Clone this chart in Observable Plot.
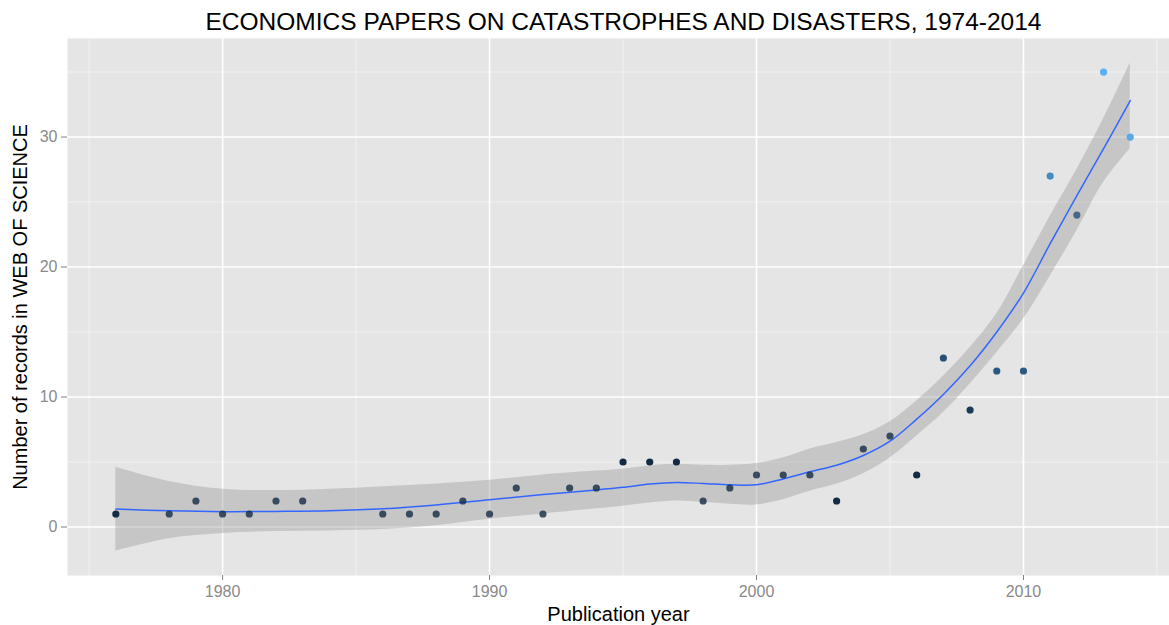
<!DOCTYPE html>
<html>
<head>
<meta charset="utf-8">
<script src="https://cdn.jsdelivr.net/npm/d3@7"></script>
<script src="https://cdn.jsdelivr.net/npm/@observablehq/plot@0.6"></script>
<style>
  html, body { margin: 0; padding: 0; background: #ffffff; }
  body { width: 1169px; height: 625px; overflow: hidden; font-family: "Liberation Sans", Arial, sans-serif; }
  #title { height: 38px; line-height: 44px; font-size: 24.5px; color: #000; text-align: center; width: 1169px; padding-left: 78px; box-sizing: border-box; white-space: nowrap; }
  #chart svg { display: block; }
</style>
</head>
<body>
<div id="title">ECONOMICS PAPERS ON CATASTROPHES AND DISASTERS, 1974-2014</div>
<div id="chart"></div>
<script>
// Observed yearly counts
const years   = [1976,1978,1979,1980,1981,1982,1983,1986,1987,1988,1989,1990,1991,1992,1993,1994,1995,1996,1997,1998,1999,2000,2001,2002,2003,2004,2005,2006,2007,2008,2009,2010,2011,2012,2013,2014];
const records = [1,1,2,1,1,2,2,1,1,1,2,1,3,1,3,3,5,5,5,2,3,4,4,4,2,6,7,4,13,9,12,12,27,24,35,30];
// point colour variable (continuous) and point alpha variable
const shade   = [0,0,0,0,0,0,0,0,0,0,0,0,0,0,0,0,0,0,0,0,0,0,0,0,0,0,0,0,0.28,0.11,0.35,0.35,0.72,0.3,1.0,0.91];
const alphaV  = [1,0.8,0.8,0.8,0.8,0.8,0.8,0.8,0.8,0.8,0.8,0.8,0.8,0.8,0.8,0.8,1,1,1,0.8,0.8,0.8,0.8,0.8,1,0.8,0.8,1,1,1,1,1,1,0.8,1,0.95];

// Smoother (loess) fit and confidence band
const smoothYears = [1976,1978,1980,1982,1984,1986,1988,1990,1992,1994,1995,1996,1997,1998,1999,2000,2001,2002,2003,2004,2005,2006,2007,2008,2009,2010,2011,2012,2013,2014];
const smoothFit   = [1.38,1.25,1.18,1.2,1.25,1.4,1.7,2.1,2.5,2.85,3.05,3.3,3.42,3.35,3.25,3.25,3.7,4.25,4.75,5.5,6.6,8.3,10.2,12.4,15.0,18.0,21.8,25.5,29.1,32.8];
const smoothLow   = [-1.85,-0.9,-0.5,-0.35,-0.3,-0.2,0.1,0.6,1.0,1.4,1.6,1.85,2.0,1.9,1.75,1.7,2.1,2.75,3.3,4.1,5.3,7.0,8.8,11.0,13.4,16.0,19.3,22.8,26.5,29.1];
const smoothHigh  = [4.6,3.5,2.9,2.8,2.9,3.1,3.3,3.6,4.0,4.3,4.45,4.7,4.83,4.75,4.75,4.88,5.3,6.0,6.5,7.1,8.1,9.7,11.6,13.8,16.4,20.1,23.9,27.5,31.4,35.7];

// Axis ticks
const xMajor = [1980,1990,2000,2010];
const xMinor = [1975,1985,1995,2005,2015];
const yMajor = [0,10,20,30];
const yMinor = [5,15,25,35];

const points = years.map((y,i) => ({year: y, n: records[i], shade: shade[i], alpha: alphaV[i]}));
const smooth = smoothYears.map((y,i) => ({year: y, fit: smoothFit[i], lo: smoothLow[i], hi: smoothHigh[i]}));

const chart = Plot.plot({
  width: 1169,
  height: 587,
  marginTop: 0,
  marginBottom: 50,
  marginLeft: 67,
  marginRight: 0,
  style: {fontFamily: "'Liberation Sans', Arial, sans-serif", background: "transparent"},
  x: {domain: [1974.19, 2015.47], label: null},
  y: {domain: [-3.73, 37.58], label: null},
  color: {type: "linear", domain: [0,1], range: ["#132B43", "#56B1F7"]},
  marks: [
    Plot.frame({fill: "#E5E5E5", stroke: null}),
    Plot.ruleX(xMinor, {stroke: "#F2F2F2", strokeWidth: 1}),
    Plot.ruleY(yMinor, {stroke: "#F2F2F2", strokeWidth: 1}),
    Plot.ruleX(xMajor, {stroke: "#FFFFFF", strokeWidth: 1.6}),
    Plot.ruleY(yMajor, {stroke: "#FFFFFF", strokeWidth: 1.6}),
    Plot.areaY(smooth, {x: "year", y1: "lo", y2: "hi", fill: "#999999", fillOpacity: 0.4, curve: "catmull-rom"}),
    Plot.line(smooth, {x: "year", y: "fit", stroke: "#3366FF", strokeWidth: 1.5, curve: "catmull-rom"}),
    Plot.dot(points, {x: "year", y: "n", r: 3.6, fill: "shade", fillOpacity: "alpha", stroke: null}),
    Plot.axisX(xMajor, {tickSize: 5, tickPadding: 5, stroke: "#7F7F7F", fill: "#8A8A8A", fontSize: 16, tickFormat: d => String(d), label: null}),
    Plot.axisY(yMajor, {tickSize: 6, tickPadding: 4, stroke: "#7F7F7F", fill: "#8A8A8A", fontSize: 16, label: null}),
    Plot.text(["Publication year"], {frameAnchor: "bottom", dy: 45, fontSize: 20, fill: "#000"}),
    Plot.text(["Number of records in WEB OF SCIENCE"], {frameAnchor: "left", textAnchor: "middle", dx: -47, rotate: -90, fontSize: 20, fill: "#000"})
  ]
});
document.getElementById("chart").appendChild(chart);
</script>
</body>
</html>
